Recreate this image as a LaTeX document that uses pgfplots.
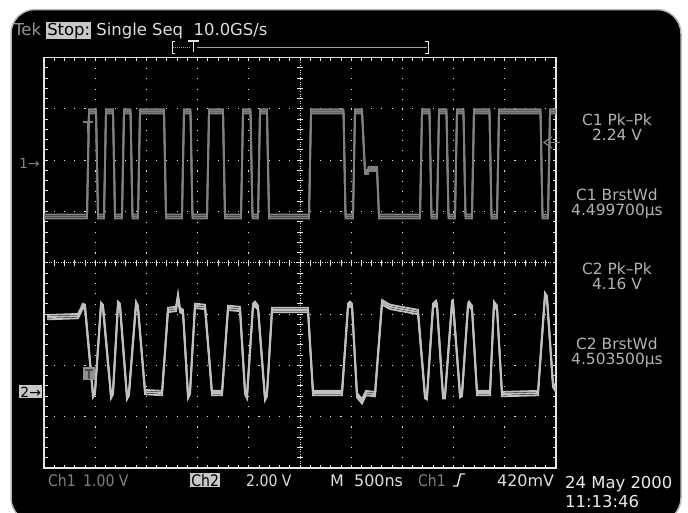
\documentclass[border=0pt]{standalone}
\usepackage{pgfplots}
\pgfplotsset{compat=1.18}
\usepackage{pgfplotstable}
\usepackage{fontspec}
\setmainfont{DejaVu Sans}
\definecolor{chone}{RGB}{128,128,128}
\definecolor{chtwo}{RGB}{192,192,192}
\definecolor{gridc}{RGB}{228,228,228}
\definecolor{meas}{RGB}{178,178,178}
\definecolor{dimtxt}{RGB}{128,128,128}
\definecolor{boxc}{RGB}{200,200,200}
\definecolor{brite}{RGB}{222,222,222}
\newcommand\tf[1]{\fontsize{#1}{#1}\selectfont}
\newcommand\cond[1]{\scalebox{0.88}[1]{#1}}

% Channel 1 (screen divisions: x 0..10, y -4..4)
\pgfplotstableread{
x y
0 0.90
0.840 0.90
0.879 2.95
1.016 2.95
1.055 0.90
1.172 0.90
1.211 2.95
1.348 2.95
1.387 0.90
1.523 0.90
1.563 2.95
1.690 2.95
1.728 0.90
1.836 0.90
1.875 2.95
2.344 2.95
2.383 0.90
2.695 0.90
2.734 2.95
2.861 2.95
2.900 0.90
3.184 0.90
3.223 2.95
3.496 2.95
3.535 0.90
3.848 0.90
3.887 2.95
4.033 2.95
4.072 0.90
4.180 0.90
4.219 2.95
4.355 2.95
4.395 0.90
5.176 0.90
5.215 2.95
5.850 2.95
5.889 0.90
6.035 0.90
6.074 2.95
6.211 2.95
6.270 1.77
6.328 1.77
6.338 1.83
6.504 1.83
6.543 0.90
7.344 0.90
7.383 2.95
7.529 2.95
7.568 0.90
7.676 0.90
7.715 2.95
7.861 2.95
7.900 0.90
8.027 0.90
8.066 2.95
8.193 2.95
8.232 0.90
8.359 0.90
8.398 2.95
8.701 2.95
8.740 0.90
8.848 0.90
8.887 2.95
9.697 2.95
9.736 0.90
9.844 0.90
9.883 2.95
10 2.95
}\chonetab

% Channel 2
\pgfplotstableread{
x y
0.06 -1.06
0.664 -1.04
0.762 -0.84
0.801 -0.86
0.957 -2.58
0.996 -2.52
1.113 -0.82
1.152 -0.86
1.309 -2.60
1.348 -2.52
1.445 -0.80
1.484 -0.84
1.621 -2.62
1.660 -2.54
1.797 -0.80
1.836 -0.88
1.973 -2.52
2.305 -2.54
2.422 -0.92
2.578 -0.90
2.617 -0.65
2.656 -0.92
2.715 -0.96
2.813 -2.60
2.852 -2.52
2.949 -0.84
3.145 -0.86
3.281 -2.54
3.477 -2.54
3.594 -0.88
3.828 -0.90
3.926 -2.52
3.965 -2.60
4.082 -0.84
4.121 -0.80
4.180 -0.88
4.316 -2.64
4.355 -2.56
4.453 -0.92
5.156 -0.92
5.254 -2.54
5.820 -2.54
5.938 -0.84
5.977 -0.80
6.016 -0.84
6.113 -2.58
6.211 -2.70
6.289 -2.54
6.465 -2.56
6.602 -0.77
6.758 -0.86
7.305 -0.96
7.441 -2.60
7.480 -2.62
7.598 -0.84
7.656 -0.78
7.676 -0.84
7.793 -2.60
7.832 -2.60
7.969 -0.78
7.988 -0.77
8.125 -2.58
8.164 -2.56
8.281 -0.84
8.301 -0.80
8.359 -0.88
8.457 -2.54
8.711 -2.54
8.789 -0.80
8.848 -0.88
8.945 -2.56
9.648 -2.54
9.785 -0.63
9.824 -0.69
9.941 -2.38
10 -2.48
}\chtwotab

\begin{document}
\begin{tikzpicture}
\useasboundingbox (0,0) rectangle (688bp,-513bp);
\fill[white] (0,0) rectangle (688bp,-513bp);
\begin{scope}[x=1bp,y=-1bp]
\filldraw[fill=black, draw=gray!55, line width=1.5bp, rounded corners=24bp] (11,9.5) rectangle (681,522);
% graticule: dotted division lines
\foreach \i in {1,2,3,4,6,7,8,9}
  \draw[gridc, line width=1.1bp, dash pattern=on 1.1bp off 9.14bp, dash phase=0.55bp] ({44+51.2*\i},468) -- ({44+51.2*\i},57.5);
\foreach \j in {1,2,3,5,6,7}
  \draw[gridc, line width=1.1bp, dash pattern=on 1.1bp off 9.14bp, dash phase=0.55bp] (44,{57.5+51.3125*\j}) -- (556,{57.5+51.3125*\j});
% centre lines, densely dotted with cross ticks
\draw[gridc, line width=0.9bp, dash pattern=on 1bp off 1.4bp] (300,57.5) -- (300,468);
\draw[gridc, line width=0.9bp, dash pattern=on 1bp off 1.4bp] (44,262.75) -- (556,262.75);
\foreach \k in {1,...,49} {
  \draw[gridc, line width=0.9bp] ({44+10.24*\k},259.75) -- ++(0,6);
  \draw[gridc, line width=0.9bp] ({44+10.24*\k},468) -- ++(0,-3.5);
  \draw[gridc, line width=0.9bp] ({44+10.24*\k},57.5) -- ++(0,3.5);
}
\foreach \k in {1,...,39} {
  \draw[gridc, line width=0.9bp] (297,{57.5+10.2625*\k}) -- ++(6,0);
  \draw[gridc, line width=0.9bp] (44,{57.5+10.2625*\k}) -- ++(3.5,0);
  \draw[gridc, line width=0.9bp] (556,{57.5+10.2625*\k}) -- ++(-3.5,0);
}
\end{scope}

% traces
\begin{axis}[
  at={(44bp,-468bp)}, anchor=south west,
  width=512bp, height=410.5bp, scale only axis,
  xmin=0, xmax=10, ymin=-4, ymax=4,
  xtick=\empty, ytick=\empty,
  axis line style={gridc, line width=1.2bp},
]
\addplot[chone, line width=1.8bp, yshift=2bp] table {\chonetab};
\addplot[chone, line width=1.8bp] table {\chonetab};
\addplot[chone, line width=1.8bp, yshift=-2bp] table {\chonetab};
\addplot[chtwo, line width=1.8bp, yshift=2.2bp] table {\chtwotab};
\addplot[chtwo, line width=1.8bp] table {\chtwotab};
\addplot[chtwo, line width=1.8bp, yshift=-2.2bp] table {\chtwotab};
\end{axis}

\begin{scope}[x=1bp,y=-1bp, every node/.style={inner sep=0pt}]
% header
\node[anchor=base west] at (14,35) {\tf{16.5}\color{gray!85}Tek\ {\setlength{\fboxsep}{1bp}\colorbox{boxc}{\color{black}Stop:}}\ \color{brite}Single Seq\ \ 10.0GS/s};
% record bar
\draw[gridc, line width=1bp] (175,41) -- (172,41) -- (172,53) -- (175,53);
\draw[gridc, line width=1bp] (425,41) -- (428,41) -- (428,53) -- (425,53);
\draw[gridc!70!black, line width=0.9bp, dash pattern=on 1bp off 1bp] (173,47) -- (190,47);
\draw[gridc!70!black, line width=0.9bp] (197,47) -- (427,47);
\draw[gridc, line width=1.2bp] (188,41) -- (199,41) (193.5,41) -- (193.5,52);
% trace markers
\draw[chone, line width=1.5bp] (83,122) -- (93,122) (88,122) -- (88,133);
\node[anchor=base west, dimtxt] at (19,168) {\tf{14}1→};
\node[anchor=base west] at (19,397) {\setlength{\fboxsep}{1.2bp}\colorbox{boxc}{\tf{14}\color{black}2→}};
\fill[chtwo!75!black] (83,367) rectangle (95,380);
\draw[black!70, line width=1.2bp] (85,370) -- (93,370) (89,370) -- (89,379);
% trigger level marker
\draw[chone, line width=1.3bp] (552,137) -- (544,142.5) -- (552,148);
\draw[chone, line width=1.3bp] (548,142.5) -- (560,142.5);
% measurements
\begin{scope}[every node/.append style={anchor=base, text=meas}]
\node at (617,125) {\tf{15.5}C1 Pk–Pk};
\node at (617,140) {\tf{15.5}2.24 V};
\node at (617,200) {\tf{15.5}C1 BrstWd};
\node at (617,215) {\tf{15.5}4.499700µs};
\node at (617,274) {\tf{15.5}C2 Pk–Pk};
\node at (617,289) {\tf{15.5}4.16 V};
\node at (617,349) {\tf{15.5}C2 BrstWd};
\node at (617,364) {\tf{15.5}4.503500µs};
\end{scope}
% bottom readout
\begin{scope}[every node/.append style={anchor=base west}]
\node[text=dimtxt] at (48,486) {\tf{16}\cond{Ch1}};
\node[text=dimtxt] at (83,486) {\tf{16}\cond{1.00 V}};
\node at (190,486) {\setlength{\fboxsep}{1.2bp}\colorbox{boxc}{\tf{16}\color{black}\cond{Ch2}}};
\node[text=brite] at (246,486) {\tf{16}\cond{2.00 V}};
\node[text=brite] at (330,486) {\tf{16}M};
\node[text=brite] at (354,486) {\tf{16}500ns};
\node[text=dimtxt] at (418,486) {\tf{16}\cond{Ch1}};
\node[text=brite] at (497,486) {\tf{16}420mV};
\node[text=white!92!black] at (565,488) {\tf{16.5}24 May 2000};
\node[text=white!92!black] at (565,507) {\tf{16.5}11:13:46};
\end{scope}
\draw[brite, line width=1.4bp] (453,486) -- (457.5,486) -- (460.5,474) -- (465,474);
\end{scope}
\end{tikzpicture}
\end{document}
